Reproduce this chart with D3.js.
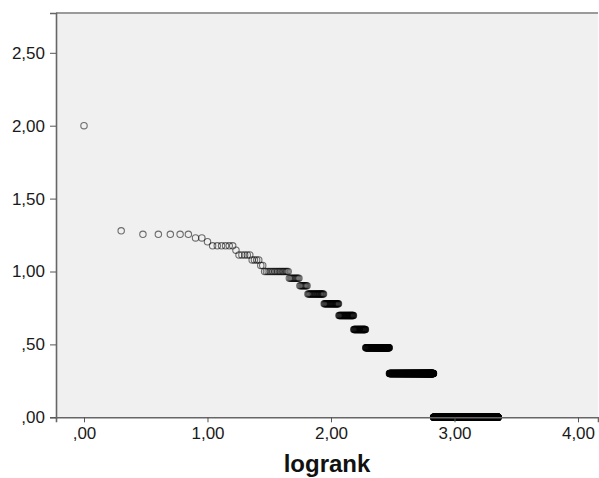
<!DOCTYPE html>
<html>
<head>
<meta charset="utf-8">
<script src="https://cdnjs.cloudflare.com/ajax/libs/d3/7.8.5/d3.min.js"></script>
<style>
  html, body { margin: 0; padding: 0; background: #fff; }
  svg { display: block; font-family: Arial, "Liberation Sans", sans-serif; }
</style>
</head>
<body>
<svg id="chart" width="599" height="478"></svg>
<script>
// Word frequencies (y = log10 freq) and how many words share each frequency
const frequencies = [100, 19, 18, 17, 16, 15, 14, 13, 12, 11, 10, 9, 8, 7, 6, 5, 4, 3, 2, 1];
const wordCounts  = [  1,  1,  5,  2,  1,  6,  1,  5,  4,  2, 17, 10, 9, 23, 28, 37, 38, 106, 380, 1574];
const xTickValues = [0, 1, 2, 3, 4];
const yTickValues = [0, 0.5, 1, 1.5, 2, 2.5];
const xTitle = "logrank";

// Build rank-frequency points: rank runs 1..N, sorted by frequency descending
const points = [];
let rank = 1;
frequencies.forEach((f, i) => {
  for (let k = 0; k < wordCounts[i]; k++) {
    points.push({ logrank: Math.log10(rank), logfreq: Math.log10(f) });
    rank++;
  }
});

const svg = d3.select("#chart");
const plotLeft = 56, plotRight = 598, plotTop = 13, plotBottom = 417.3;

const x = d3.scaleLinear().domain([-0.2267, 4.162]).range([plotLeft, plotRight]);
const y = d3.scaleLinear().domain([0, 2.773]).range([plotBottom, plotTop]);

const fmt = d => {
  const s = d3.format(".2f")(d).replace(".", ",");
  return s.startsWith("0,") ? s.slice(1) : s;
};

// plot background
svg.append("rect")
  .attr("x", plotLeft).attr("y", plotTop)
  .attr("width", plotRight - plotLeft).attr("height", plotBottom - plotTop)
  .attr("fill", "#f0f0f0");

// top frame line
svg.append("line")
  .attr("x1", plotLeft).attr("x2", plotRight)
  .attr("y1", plotTop).attr("y2", plotTop)
  .attr("stroke", "#9a9a9a").attr("stroke-width", 2);

// points
svg.append("g")
  .selectAll("circle")
  .data(points)
  .join("circle")
  .attr("cx", d => x(d.logrank))
  .attr("cy", d => y(d.logfreq))
  .attr("r", 3.2)
  .attr("fill", "none")
  .attr("stroke", "#000")
  .attr("stroke-opacity", 0.55)
  .attr("stroke-width", 1.1);

// x axis
const xAxis = svg.append("g")
  .attr("transform", `translate(0,${plotBottom})`)
  .call(d3.axisBottom(x).tickValues(xTickValues).tickFormat(fmt).tickSize(5).tickPadding(5));
xAxis.select(".domain").attr("stroke", "#666").attr("stroke-width", 1.6);
xAxis.selectAll(".tick line").attr("stroke", "#555");
xAxis.selectAll("text").attr("font-size", 17).attr("fill", "#1a1a1a");

// y axis
const yAxis = svg.append("g")
  .attr("transform", `translate(${plotLeft},0)`)
  .call(d3.axisLeft(y).tickValues(yTickValues).tickFormat(fmt).tickSize(6).tickPadding(5));
yAxis.select(".domain").attr("stroke", "#666").attr("stroke-width", 1.6);
yAxis.selectAll(".tick line").attr("stroke", "#555");
yAxis.selectAll("text").attr("font-size", 17).attr("fill", "#1a1a1a");

// x title
svg.append("text")
  .attr("x", (plotLeft + plotRight) / 2)
  .attr("y", 472)
  .attr("text-anchor", "middle")
  .attr("font-size", 24)
  .attr("font-weight", "bold")
  .attr("fill", "#111")
  .text(xTitle);
</script>
</body>
</html>
